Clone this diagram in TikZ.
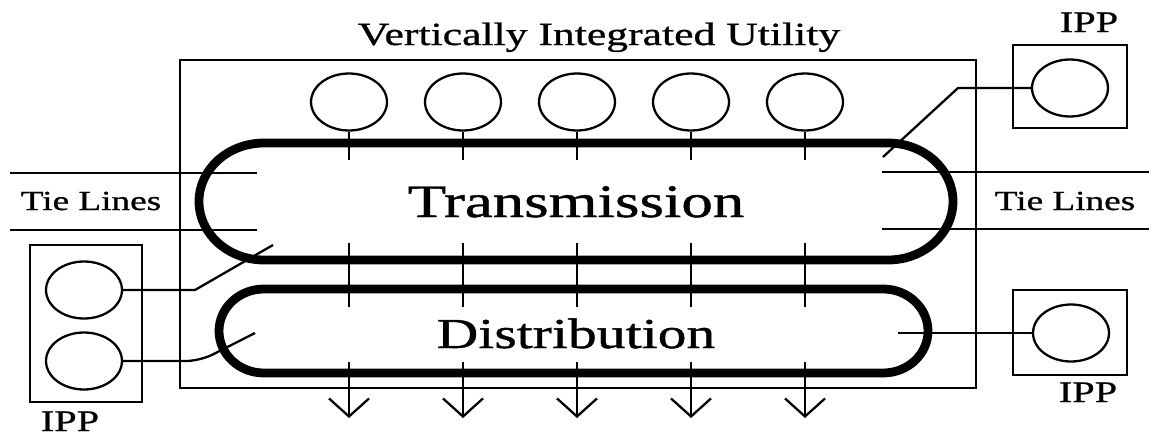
\documentclass[tikz,border=0pt]{standalone}
\usepackage{fontspec}
\setmainfont{Liberation Serif}[FakeStretch=1.35, FakeBold=0.9]
\usetikzlibrary{shapes.geometric,arrows.meta}

\begin{document}
\begin{tikzpicture}[x=0.02cm, y=-0.02cm, line width=1.3pt,
  gen/.style={draw, ellipse, inner sep=0pt, minimum width=1.52cm, minimum height=1.14cm},
  box/.style={draw, inner sep=0pt},
  bus/.style={line width=5pt, line join=round},
  feed/.style={-{Straight Barb[length=0.36cm, width=0.8cm]}},
  lbl/.style={anchor=base, inner sep=0pt, font=\fontsize{17}{20}\selectfont}]
\useasboundingbox (0,0) rectangle (1149,436);
\node[box, minimum width=15.92cm, minimum height=6.56cm] (U_0) at (578,224) {};
\node[lbl, font=\fontsize{18.4}{22}\selectfont] (U_t) at (599,45) {Vertically Integrated Utility};
\draw[bus] (264,143) -- (888,143) arc[start angle=-90, end angle=90, x radius=65, y radius=58.5]
  -- (264,260) arc[start angle=90, end angle=270, x radius=65, y radius=58.5] -- cycle;
\draw[bus] (264,289) -- (883,289) arc[start angle=-90, end angle=90, x radius=45, y radius=42]
  -- (264,373) arc[start angle=90, end angle=270, x radius=45, y radius=42] -- cycle;
\node[lbl, font=\fontsize{26.5}{30}\selectfont] (T_t) at (576,217) {Transmission};
\node[lbl, font=\fontsize{24.3}{28}\selectfont] (D_t) at (576,348) {Distribution};
\coordinate (T_top) at (0,160);
\coordinate (M_top) at (0,243);
\coordinate (M_bot) at (0,307);
\coordinate (D_bot) at (0,362);
\coordinate (D_tip) at (0,418);
\node[gen] (G_1) at (349,102) {};
\draw (G_1.south) -- (G_1.south |- T_top);
\draw (G_1 |- M_top) -- (G_1 |- M_bot);
\draw[feed] (G_1 |- D_bot) -- (G_1 |- D_tip);
\node[gen] (G_2) at (463,102) {};
\draw (G_2.south) -- (G_2.south |- T_top);
\draw (G_2 |- M_top) -- (G_2 |- M_bot);
\draw[feed] (G_2 |- D_bot) -- (G_2 |- D_tip);
\node[gen] (G_3) at (577,102) {};
\draw (G_3.south) -- (G_3.south |- T_top);
\draw (G_3 |- M_top) -- (G_3 |- M_bot);
\draw[feed] (G_3 |- D_bot) -- (G_3 |- D_tip);
\node[gen] (G_4) at (691,102) {};
\draw (G_4.south) -- (G_4.south |- T_top);
\draw (G_4 |- M_top) -- (G_4 |- M_bot);
\draw[feed] (G_4 |- D_bot) -- (G_4 |- D_tip);
\node[gen] (G_5) at (805,102) {};
\draw (G_5.south) -- (G_5.south |- T_top);
\draw (G_5 |- M_top) -- (G_5 |- M_bot);
\draw[feed] (G_5 |- D_bot) -- (G_5 |- D_tip);
\coordinate (W_1) at (10,173);
\coordinate (W_2) at (257,173);
\coordinate (W_3) at (10,230);
\coordinate (W_4) at (257,230);
\draw (W_1) -- (W_2);
\draw (W_3) -- (W_4);
\node[lbl, font=\fontsize{15.7}{18}\selectfont] (W_t) at (91,210) {Tie Lines};
\coordinate (E_1) at (882,172);
\coordinate (E_2) at (1149,172);
\coordinate (E_3) at (882,229);
\coordinate (E_4) at (1149,229);
\draw (E_1) -- (E_2);
\draw (E_3) -- (E_4);
\node[lbl, font=\fontsize{15.7}{18}\selectfont] (E_t) at (1065,210) {Tie Lines};
\node[box, minimum width=2.28cm, minimum height=1.66cm] (R_0) at (1070,86.5) {};
\node[gen] (R_1) at (1070,88) {};
\node[lbl] (R_t) at (1089,32) {IPP};
\coordinate (R_end) at (883,157);
\draw (R_1.west) -- (958,88) -- (R_end);
\node[box, minimum width=2.28cm, minimum height=1.7cm] (S_0) at (1070,332.5) {};
\node[gen] (S_1) at (1071,333) {};
\node[lbl] (S_t) at (1088,402) {IPP};
\coordinate (S_end) at (898,333);
\draw (S_1.west) -- (S_end);
\node[box, minimum width=2.24cm, minimum height=3.14cm] (B_0) at (86,323.5) {};
\node[gen] (B_1) at (84,290) {};
\node[gen] (B_2) at (84,361) {};
\node[lbl] (B_t) at (70,431) {IPP};
\coordinate (B_end1) at (273,245);
\coordinate (B_end2) at (255,333);
\draw (B_1.east) -- (195,290) -- (B_end1);
\draw[rounded corners=8pt] (B_2.east) -- (200,361) -- (B_end2);
\end{tikzpicture}
\end{document}
